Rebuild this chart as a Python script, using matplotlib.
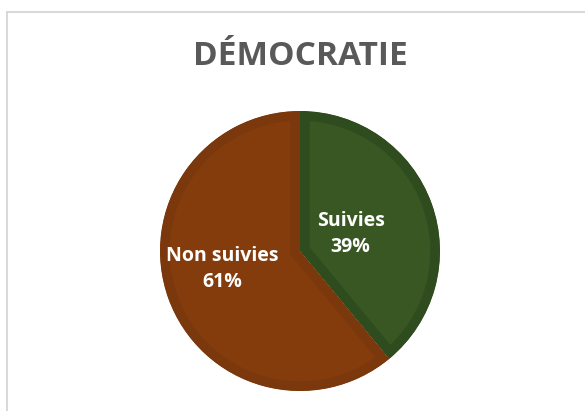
import numpy as np
import matplotlib.pyplot as plt
from matplotlib.patches import Rectangle

title = "DÉMOCRATIE"
categories = ["Suivies", "Non suivies"]
shares = [39, 61]
fill_colors = ["#385723", "#843c0c"]
edge_colors = ["#2f4c1f", "#7a380c"]

# label placement inside each slice: radius fraction and angular nudge (deg)
label_dist = [0.38, 0.57]
label_nudge = [-1.5, -6.5]

fig = plt.figure(figsize=(5.85, 4.11), dpi=100)
fig.patch.set_facecolor("white")

# light grey chart frame, running off the right and bottom edges
fig.patches.append(Rectangle((7 / 585, -0.1), 1.2, 1 - 12 / 411 + 0.1,
                             transform=fig.transFigure, fill=False,
                             edgecolor="#d9d9d9", linewidth=1.5))

ax = fig.add_axes([160 / 585, 20 / 411, 280 / 585, 280 / 411])
wedges, _ = ax.pie(shares, colors=fill_colors, startangle=90,
                   counterclock=False, radius=1.0)
ax.set_xlim(-1, 1)
ax.set_ylim(-1, 1)
ax.set_aspect("equal")

for w, ec in zip(wedges, edge_colors):
    # darker inner band along each slice edge
    w.set_edgecolor(ec)
    w.set_linewidth(14)
    w.set_clip_on(True)
    w.set_clip_path(w)

for w, cat, val, d, nudge in zip(wedges, categories, shares,
                                 label_dist, label_nudge):
    mid = np.deg2rad((w.theta1 + w.theta2) / 2 + nudge)
    ax.text(d * np.cos(mid), d * np.sin(mid), f"{cat}\n{val}%",
            ha="center", va="center", color="white", fontsize=14,
            fontweight="bold", family="Open Sans", linespacing=1.4)

fig.text(300 / 585, 1 - 65 / 411, title, ha="center", va="baseline",
         color="#595959", fontsize=24, fontweight="bold", family="Open Sans")

fig.savefig("out.png", dpi=100)
